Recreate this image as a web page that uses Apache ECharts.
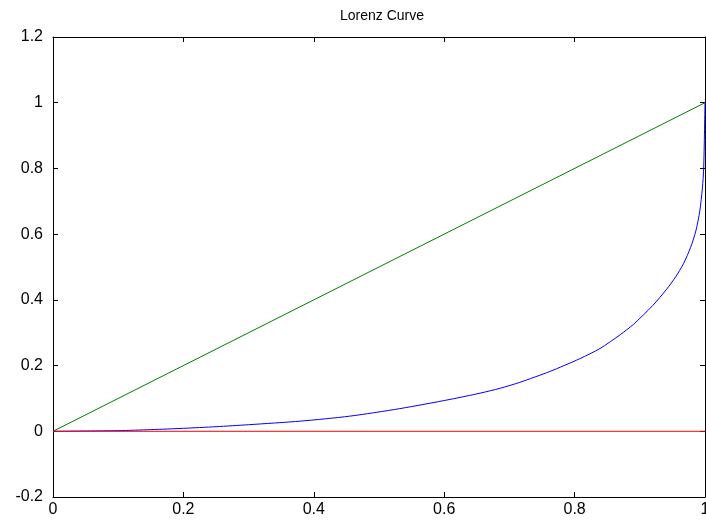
<!DOCTYPE html>
<html lang="en">
<head>
    <meta charset="UTF-8">
    <title>Lorenz Curve</title>
    <script type="text/javascript" src="https://cdn.jsdelivr.net/npm/echarts@6/dist/echarts.min.js"></script>
    <style>
        html, body { margin: 0; padding: 0; background: #fff; }
        #charts { width: 706px; height: 522px; }
    </style>
</head>
<body>
<div id="charts"></div>
<script>
    // population share (x) vs income share (y)
    var lorenzX = [0, 0.1, 0.15, 0.2, 0.25, 0.3, 0.38, 0.455, 0.532, 0.609, 0.655, 0.686, 0.716, 0.762, 0.808, 0.839,
        0.87, 0.89, 0.92, 0.941, 0.955, 0.967, 0.978, 0.986, 0.992, 0.996, 0.998, 1]
    var lorenzY = [0, 0.002, 0.005, 0.009, 0.014, 0.02, 0.031, 0.046, 0.069, 0.097, 0.116, 0.131, 0.149, 0.182, 0.221, 0.252,
        0.294, 0.325, 0.383, 0.432, 0.47, 0.51, 0.56, 0.61, 0.67, 0.74, 0.8, 1]
    var equalityX = [0, 1]
    var equalityY = [0, 1]
    var zeroX = [0, 1]
    var zeroY = [0, 0]

    function pairs(xs, ys) {
        var out = []
        for (var i = 0; i < xs.length; i++) out.push([xs[i], ys[i]])
        return out
    }

    var font = "'Liberation Sans', Arial, sans-serif"
    var tick = {show: true, inside: true, length: 5, lineStyle: {color: '#000'}}
    var line = {show: true, onZero: false, lineStyle: {color: '#000', width: 1}}

    var chart = echarts.init(document.getElementById("charts"), null, {renderer: 'canvas'})
    chart.setOption({
        animation: false,
        backgroundColor: '#fff',
        title: {
            text: 'Lorenz Curve', left: 377, top: 4, textAlign: 'center',
            textStyle: {fontFamily: font, fontSize: 14, fontWeight: 'normal', color: '#000'}
        },
        grid: {left: 53, right: 1, top: 37, bottom: 25, outerBoundsMode: 'none', containLabel: false},
        xAxis: [
            {type: 'value', min: 0, max: 1, interval: 0.2, position: 'bottom',
                axisLine: line, axisTick: tick, splitLine: {show: false},
                axisLabel: {fontFamily: font, fontSize: 16, color: '#000', margin: 5}},
            {type: 'value', min: 0, max: 1, interval: 0.2, position: 'top',
                axisLine: line, axisTick: tick, splitLine: {show: false}, axisLabel: {show: false}}
        ],
        yAxis: [
            {type: 'value', min: -0.2, max: 1.2, interval: 0.2, position: 'left',
                axisLine: line, axisTick: tick, splitLine: {show: false},
                axisLabel: {fontFamily: font, fontSize: 16, color: '#000', margin: 10}},
            {type: 'value', min: -0.2, max: 1.2, interval: 0.2, position: 'right',
                axisLine: line, axisTick: tick, splitLine: {show: false}, axisLabel: {show: false}}
        ],
        series: [
            {type: 'line', data: pairs(equalityX, equalityY), showSymbol: false,
                lineStyle: {color: '#008000', width: 1}},
            {type: 'line', data: pairs(lorenzX, lorenzY), showSymbol: false, smooth: 0.25,
                lineStyle: {color: '#0000ff', width: 1}},
            {type: 'line', data: pairs(zeroX, zeroY), showSymbol: false,
                lineStyle: {color: '#ff0000', width: 1}}
        ]
    })
</script>
</body>
</html>
